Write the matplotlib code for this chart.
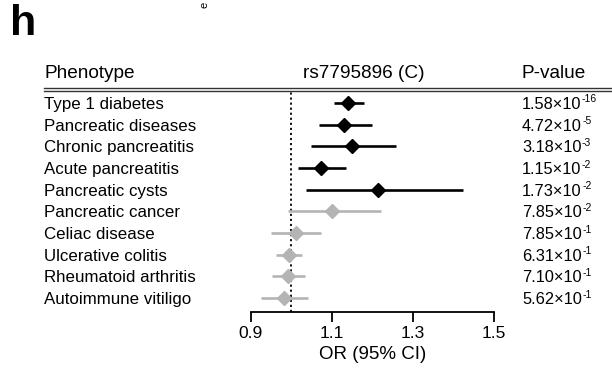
import matplotlib
matplotlib.use("Agg")
import matplotlib.pyplot as plt
from matplotlib.lines import Line2D

plt.rcParams['font.family'] = ['Liberation Sans', 'DejaVu Sans']

phenotypes = ["Type 1 diabetes", "Pancreatic diseases", "Chronic pancreatitis",
              "Acute pancreatitis", "Pancreatic cysts", "Pancreatic cancer",
              "Celiac disease", "Ulcerative colitis", "Rheumatoid arthritis",
              "Autoimmune vitiligo"]
odds_ratio = [1.140, 1.131, 1.150, 1.074, 1.214, 1.101, 1.011, 0.994, 0.993, 0.983]
ci_low = [1.106, 1.067, 1.049, 1.017, 1.037, 0.993, 0.951, 0.962, 0.953, 0.926]
ci_high = [1.178, 1.199, 1.259, 1.134, 1.422, 1.220, 1.072, 1.027, 1.033, 1.041]
p_mantissa = ["1.58", "4.72", "3.18", "1.15", "1.73", "7.85", "7.85", "6.31", "7.10", "5.62"]
p_exponent = ["-16", "-5", "-3", "-2", "-2", "-2", "-1", "-1", "-1", "-1"]
significant = [True, True, True, True, True, False, False, False, False, False]
x_ticks = [0.9, 1.1, 1.3, 1.5]

W, H = 612, 371
fig = plt.figure(figsize=(W / 100, H / 100), dpi=100)

def fx(px):
    return px / W

def fy(py):
    return 1 - py / H

# forest plot axes: x 0.9..1.5 spans px 250.7..494.3, rows from y=92 to axis at y=312
ax_left, ax_right = 250.7, 494.3
ax_top, ax_bot = 92.0, 312.0
ax = fig.add_axes([fx(ax_left), fy(ax_bot), fx(ax_right - ax_left), (ax_bot - ax_top) / H])
row0, step = 103.0, 21.67
ax.set_xlim(0.9, 1.5)
ax.set_ylim((ax_bot - row0) / step, (ax_top - row0) / step)

for i, (o, lo, hi, sig) in enumerate(zip(odds_ratio, ci_low, ci_high, significant)):
    col = "black" if sig else "#b4b4b4"
    ax.plot([lo, hi], [i, i], color=col, lw=1.9, solid_capstyle="butt", zorder=2)
    ax.plot([o], [i], marker="D", ms=7.6, color=col, mec=col, zorder=3)

ax.axvline(1.0, color="black", lw=1.3, ls=(0, (1.2, 1.6)), zorder=1)

for s in ["top", "right", "left"]:
    ax.spines[s].set_visible(False)
ax.spines["bottom"].set_linewidth(1.3)
ax.set_yticks([])
ax.set_xticks(x_ticks)
ax.set_xticklabels([f"{t:.1f}" for t in x_ticks], fontsize=12.5)
ax.tick_params(axis="x", direction="out", length=7, width=1.3, pad=3)
ax.set_xlabel("OR (95% CI)", fontsize=13.5, labelpad=4)
ax.patch.set_visible(False)

# panel letter
fig.text(fx(10), fy(24), "h", fontsize=31, fontweight="bold", va="center", ha="left")
fig.text(fx(205), fy(5), "e", fontsize=8, rotation=90, va="center", ha="center")

# column headers
hy = fy(73.5)
fig.text(fx(44), hy, "Phenotype", fontsize=13.7, va="center", ha="left")
fig.text(fx(364), hy, "rs7795896 (C)", fontsize=13.7, va="center", ha="center")
fig.text(fx(554), hy, "P-value", fontsize=13.7, va="center", ha="center")

# double rule under the header
for yy in (88.3, 91.0):
    fig.add_artist(Line2D([fx(44), 1.0], [fy(yy), fy(yy)], color="#333333", lw=1.0))

# row labels and p-values (mantissa plus a raised small exponent)
renderer = fig.canvas.get_renderer()
for i, (name, m, e) in enumerate(zip(phenotypes, p_mantissa, p_exponent)):
    ypx = row0 + i * step + 1.5
    fig.text(fx(44), fy(ypx), name, fontsize=12.2, va="center", ha="left")
    t = fig.text(fx(522), fy(ypx), f"{m}×10", fontsize=11.8, va="center", ha="left")
    bb = t.get_window_extent(renderer)
    fig.text(bb.x1 / W + 0.5 / W, fy(ypx - 5), e, fontsize=7.5, va="center", ha="left")

fig.savefig("out.png", dpi=100)
